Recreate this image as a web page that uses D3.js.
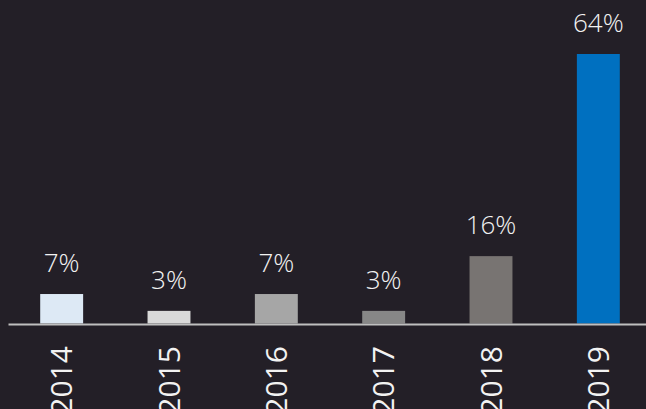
<!DOCTYPE html>
<html>
<head>
<meta charset="utf-8">
<script src="https://cdn.jsdelivr.net/npm/d3@7"></script>
<style>
  html, body { margin: 0; padding: 0; background: #231f27; }
  svg { display: block; }
</style>
</head>
<body>
<svg id="chart" width="646" height="409"></svg>
<script>
// values
const years = ["2014", "2015", "2016", "2017", "2018", "2019"];
const shares = [7, 3, 7, 3, 16, 64];
const barColors = ["#dde9f5", "#d9d9d9", "#a6a6a6", "#878787", "#787472", "#0070c0"];

const width = 646;
const height = 409;
const baseY = 323.5;

const svg = d3.select("#chart");

svg.append("rect")
    .attr("width", width)
    .attr("height", height)
    .attr("fill", "#231f27");

const x = d3.scaleBand()
    .domain(years)
    .range([8, 652])
    .paddingInner(0.6)
    .paddingOuter(0.3);

const y = d3.scaleLinear()
    .domain([0, 64])
    .range([baseY, 54]);

// bars
svg.append("g")
  .selectAll("rect")
  .data(years)
  .join("rect")
    .attr("x", d => x(d))
    .attr("y", (d, i) => y(shares[i]))
    .attr("width", x.bandwidth())
    .attr("height", (d, i) => baseY - y(shares[i]))
    .attr("fill", (d, i) => barColors[i]);

// value labels
svg.append("g")
  .selectAll("text")
  .data(years)
  .join("text")
    .attr("x", d => x(d) + x.bandwidth() / 2)
    .attr("y", (d, i) => y(shares[i]) - 22)
    .attr("text-anchor", "middle")
    .attr("fill", "#f2f2f2")
    .style("font-family", "'Open Sans', sans-serif")
    .style("font-weight", 300)
    .style("font-size", "26px")
    .text((d, i) => shares[i] + "%");

// x axis with rotated years
const axis = svg.append("g")
    .attr("transform", `translate(0,${baseY + 0.5})`)
    .call(d3.axisBottom(x).tickSize(0).tickSizeOuter(0));

axis.select(".domain")
    .attr("stroke", "#bfbfbf")
    .attr("stroke-width", 2);

axis.selectAll(".tick text")
    .attr("transform", "rotate(-90)")
    .attr("x", -22)
    .attr("y", 0)
    .attr("dy", "0.36em")
    .attr("text-anchor", "end")
    .attr("fill", "#f2f2f2")
    .style("font-family", "'Open Sans', sans-serif")
    .style("font-size", "30px");
</script>
</body>
</html>
